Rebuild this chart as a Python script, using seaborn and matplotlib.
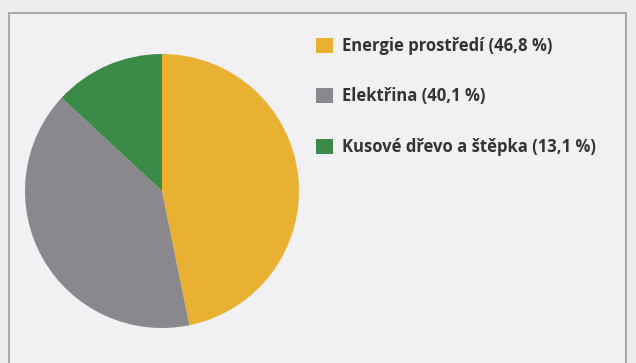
import matplotlib
matplotlib.use("Agg")
import matplotlib.pyplot as plt
from matplotlib.patches import Rectangle, Patch
import seaborn as sns

categories = ["Energie prostředí", "Elektřina", "Kusové dřevo a štěpka"]
shares = [46.8, 40.1, 13.1]
colors = ["#E9B131", "#8A888C", "#3C8A48"]

sns.set_theme(style="white")
plt.rcParams["font.family"] = ["Open Sans", "DejaVu Sans"]

W, H = 636, 363
fig = plt.figure(figsize=(W / 100, H / 100), dpi=100, facecolor="#EEEEF0")

# panel frame
fig.patches.append(Rectangle((9 / W, -0.05), 617 / W, (H - 13) / H + 0.05,
                             transform=fig.transFigure, facecolor="#F1F1F3",
                             edgecolor="#A9A9AB", linewidth=1.4, zorder=-5))

cx, cy, r = 162, H - 191, 137
ax = fig.add_axes([(cx - r) / W, (cy - r) / H, 2 * r / W, 2 * r / H])
ax.set_zorder(2)
ax.patch.set_alpha(0)
wedges, _ = ax.pie(shares, colors=colors, startangle=90, counterclock=False,
                   wedgeprops=dict(linewidth=0))
ax.set_xlim(-1, 1)
ax.set_ylim(-1, 1)
ax.set_aspect("equal")
ax.axis("off")

labels = [f"{c} ({str(v).replace('.', ',')} %)" for c, v in zip(categories, shares)]
handles = [Patch(facecolor=c, edgecolor="none") for c in colors]
leg = fig.legend(handles, labels, loc="upper left",
                 bbox_to_anchor=(316 / W, 1 - 37 / H),
                 frameon=False, handlelength=1.0, handleheight=1.0,
                 handletextpad=0.55, labelspacing=1.95, borderpad=0,
                 borderaxespad=0,
                 prop=dict(size=12, weight="bold"))
leg.set_zorder(3)
for t in leg.get_texts():
    t.set_color("#333333")

fig.savefig("out.png", dpi=100, facecolor=fig.get_facecolor())
